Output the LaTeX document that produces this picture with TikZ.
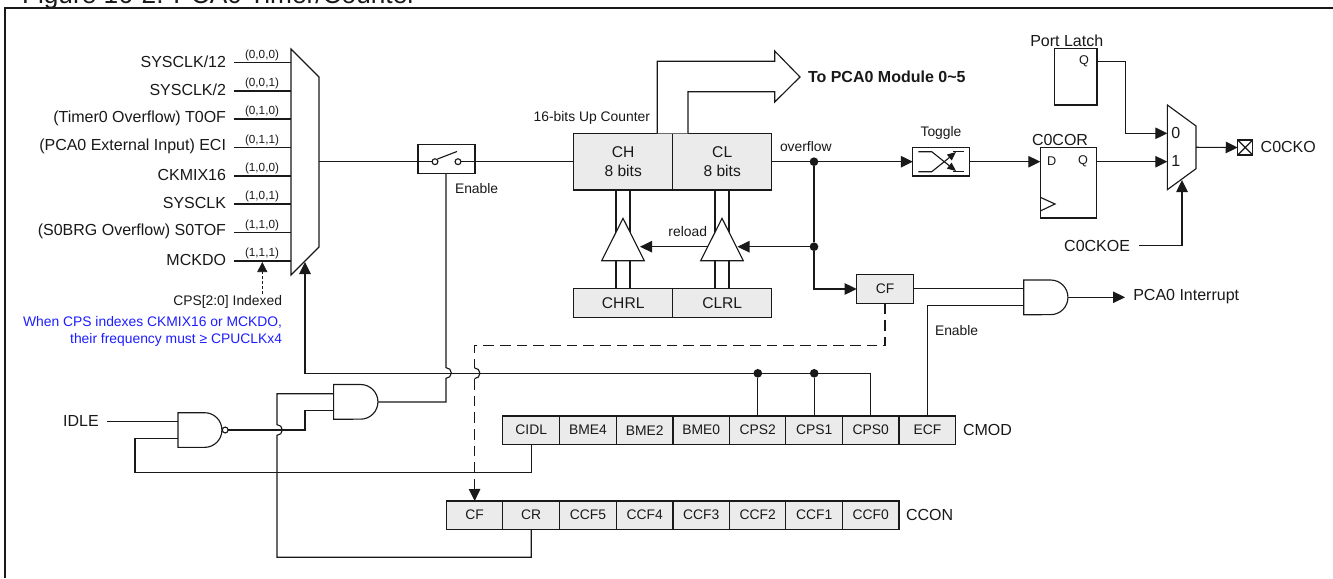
\documentclass[tikz,border=0pt]{standalone}
\usepackage{fontspec}
\setmainfont{Liberation Sans}
\usetikzlibrary{arrows.meta,calc}
\definecolor{ln}{RGB}{25,25,25}
\definecolor{cellfill}{RGB}{235,235,235}
\definecolor{bl}{RGB}{30,30,255}
\tikzset{
  x=0.75pt,y=-0.75pt,
  every node/.style={inner sep=0pt,outer sep=0pt,text=ln},
  wire/.style={draw=ln,line width=0.85pt,line join=miter},
  arr/.style={wire,-{Triangle[length=9pt,width=8.6pt]}},
  dashwire/.style={wire,dash pattern=on 8pt off 4.5pt},
  lab/.style={font=\fontsize{12}{13}\selectfont},
  mid/.style={font=\fontsize{10.4}{12}\selectfont},
  cellt/.style={font=\fontsize{10.4}{12}\selectfont},
  tinyt/.style={font=\fontsize{8.8}{10}\selectfont},
  cell/.style={draw=ln,line width=0.85pt,fill=cellfill,minimum width=42.5pt,minimum height=21.3pt,cellt},
  bigcell/.style={cell,minimum width=74.2pt,font=\fontsize{11.7}{14}\selectfont,align=center},
  plainbox/.style={draw=ln,line width=0.85pt},
  dot/.style={circle,fill=ln,minimum size=6.5pt},
  ring/.style={circle,draw=ln,line width=0.85pt,fill=white,minimum size=4.4pt},
  tri/.style={wire,fill=white},
}
\begin{document}
\begin{tikzpicture}
\useasboundingbox (0,0) rectangle (1333,578);
\fill[white] (0,0) rectangle (1333,578);
% title and frame
\node[anchor=base west,font=\fontsize{19.7}{21}\selectfont] (title) at (22,3) {Figure 16-2. PCA0 Timer/Counter};
\draw[draw=ln,line width=1.6pt] (5,578)--(5,8)--(1333,8);

% clock mux
\draw[wire] (291,49)--(319,77)--(319,247)--(291,275)--cycle;
\coordinate (mOut) at (319,161.7);
\coordinate (mSel) at (305,262);
\coordinate (mIdx) at (262.3,262);
\foreach \n/\t/\b/\y in {
 a/{SYSCLK/12}/{(0,0,0)}/62.5,
 b/{SYSCLK/2}/{(0,0,1)}/91,
 c/{(Timer0 Overflow) T0OF}/{(0,1,0)}/119,
 d/{(PCA0 External Input) ECI}/{(0,1,1)}/147.5,
 e/{CKMIX16}/{(1,0,0)}/176,
 f/{SYSCLK}/{(1,0,1)}/204,
 g/{(S0BRG Overflow) S0TOF}/{(1,1,0)}/232.5,
 h/{MCKDO}/{(1,1,1)}/261}{
  \node[lab,anchor=east] (in\n) at (226,\y-1) {\t};
  \node[tinyt] (code\n) at (262,\y-7.5) {\b};
  \coordinate (pin\n) at (234,\y);
  \coordinate (mi\n) at (291,\y);
  \draw[wire] (pin\n) -- (mi\n);
}
% index note
\node[mid,anchor=east] (idx) at (282,302) {CPS[2:0] Indexed};
\node[mid,anchor=east,text=bl] (bl1) at (282,322) {When CPS indexes CKMIX16 or MCKDO,};
\node[mid,anchor=east,text=bl] (bl2) at (282,339.5) {their frequency must ≥ CPUCLKx4};
\coordinate (idxTop) at (262.3,294);
\draw[draw=ln,line width=0.5pt,dash pattern=on 2.2pt off 1.5pt] (idxTop)--(262.3,271);
\draw[arr,line width=0.5pt,-{Triangle[length=7.5pt,width=7.5pt]}] (262.3,272)--(mIdx);

% switch
\node[plainbox,minimum width=42.7pt,minimum height=21.4pt] (sw) at (446.5,159) {};
\node[ring] (swa) at (435,161.7) {};
\node[ring] (swb) at (458,161.7) {};
\draw[wire] (437.5,159) -- (457,151.5);
\node[mid,anchor=west] (swen) at (455,189) {Enable};

% counter
\node[bigcell,minimum height=42.5pt] (CH) at (623.2,161.7) {CH\\[0.5pt]8 bits};
\node[bigcell,minimum height=42.5pt] (CL) at (722.2,161.7) {CL\\[0.5pt]8 bits};
\node[bigcell] (CHRL) at (623.2,303) {CHRL};
\node[bigcell] (CLRL) at (722.2,303) {CLRL};
\draw[wire] (mOut)--(swa);
\draw[wire] (swb)--(CH.west |- swb);
\node[mid,anchor=east] (cntlab) at (650,118) {16-bits Up Counter};
\foreach \x in {616,630,715,729}{\draw[wire] (\x,190)--(\x,289);}
\draw[tri] (623,218.3)--(644.3,260.7)--(601.7,260.7)--cycle;
\draw[tri] (722,218.3)--(743.3,260.7)--(700.7,260.7)--cycle;
% big arrow
\draw[wire,fill=white] (657.3,133.4)--(657.3,61.3)--(774.7,61.3)--(774.7,51)--(800,77)--(774.7,102)--(774.7,91.7)--(688,91.7)--(688,133.4);
\node[font=\fontsize{12}{12}\selectfont\bfseries,anchor=west] (topca) at (808,77) {To PCA0 Module 0\textasciitilde 5};
% overflow
\node[mid,anchor=west] (ovf) at (780,147) {overflow};
\node[dot] (d1) at (814,161.7) {};
\node[dot] (d2) at (814,246.7) {};
\node[cell] (cfa) at (885,289) {CF};
\draw[wire] (CL.east |- d1)--(d1);
\draw[wire] (d1)--(d2);
\draw[arr] (d2)--(737.5,246.7);
\coordinate (t2l) at (707.7,246.7);
\coordinate (t1r) at (640,246.7);
\draw[arr] (t2l)--(t1r);
\node[mid] (rel) at (687.7,232) {reload};
\draw[arr] (d2) |- (cfa.west);

% toggle
\node[plainbox,minimum width=42.7pt,minimum height=21.4pt] (tog) at (941.3,161.7) {};
\node[mid] (toglab) at (941,133) {Toggle};
\draw[arr] (d1)--(tog.west);
\draw[wire] (918.3,151.7)--(931.7,151.7)--(944,161.5);
\draw[wire,-{Triangle[length=6.5pt,width=5.5pt]}] (944,161.5)--(956,171);
\draw[wire] (918.3,171.7)--(931.7,171.7)--(944,161.9);
\draw[wire,-{Triangle[length=6.5pt,width=5.5pt]}] (944,161.9)--(956,152);
\draw[wire] (953,151.7)--(964.3,151.7);
\draw[wire] (953,171.7)--(964.3,171.7);

% C0COR flip-flop
\node[plainbox,minimum width=42pt,minimum height=53pt] (ff) at (1068.3,182.6) {};
\node[lab] (ffl) at (1060,140) {C0COR};
\node[font=\fontsize{9.5}{12}\selectfont] (ffd) at (1051.7,161.3) {D};
\node[font=\fontsize{9.5}{12}\selectfont] (ffq) at (1083,161.3) {Q};
\draw[wire] (1040.3,197.3)--(1055,204)--(1040.3,211);
\draw[arr] (tog.east)--(ff.west |- tog.east);

% port latch
\node[plainbox,minimum width=32pt,minimum height=42.5pt] (pl) at (1075.7,76.7) {};
\node[lab] (pllab) at (1066.7,40.7) {Port Latch};
\node[font=\fontsize{9.5}{12}\selectfont] (plq) at (1084,61.7) {Q};

% output mux
\draw[wire] (1167.3,105)--(1196,126)--(1196,168.7)--(1167.3,189.7)--cycle;
\node[lab] (m0) at (1175.7,133) {0};
\node[lab] (m1) at (1175.7,161) {1};
\coordinate (oi0) at (1167.3,133.3);
\coordinate (oi1) at (1167.3,161.7);
\coordinate (oo) at (1196,147.3);
\coordinate (ocn) at (1182,180);
\draw[arr] (pl.east |- plq) -| (1125.3,133.3) -- (oi0);
\draw[arr] (ff.east |- oi1)--(oi1);
\node[plainbox,minimum size=11.2pt] (pad) at (1245.2,147.5) {};
\draw[wire] (pad.north west)--(pad.south east) (pad.north east)--(pad.south west);
\draw[arr] (oo)--(pad.west);
\node[lab,anchor=west] (padl) at (1260.7,147) {C0CKO};
\node[lab,anchor=east] (oe) at (1130,245.7) {C0CKOE};
\coordinate (oeS) at (1139,245.7);
\draw[arr] (oeS) -| (ocn);

% registers
\foreach \n/\t/\x in {CIDL/CIDL/531.2,BMEf/BME4/588,BMEt/BME2/644.7,BMEz/BME0/701.3,CPSt/CPS2/757.8,CPSo/CPS1/814.2,CPSz/CPS0/870.7,ECF/ECF/927.5}{
  \node[cell] (\n) at (\x,430.2) {\t};
}
\node[lab,anchor=west] (cmod) at (963,430) {CMOD};
\foreach \n/\t/\x in {rCF/CF/474.7,rCR/CR/531.2,CCFf/CCF5/588,CCFe/CCF4/644.7,CCFd/CCF3/701.3,CCFc/CCF2/757.8,CCFb/CCF1/814.2,CCFa/CCF0/870.7}{
  \node[cell] (\n) at (\x,515.2) {\t};
}
\node[lab,anchor=west] (ccon) at (906,515) {CCON};

% interrupt AND
\draw[wire] (1023.7,280)--(1050.6,280) arc[start angle=90,end angle=-90,radius=13pt]--(1023.7,314.7)--cycle;
\coordinate (a2i1) at (1023.7,288.3);
\coordinate (a2i2) at (1023.7,305.7);
\coordinate (a2o) at (1068,297.3);
\coordinate (intr) at (1125,297.3);
\draw[wire] (cfa.east |- a2i1)--(a2i1);
\draw[wire] (ECF.north) |- (a2i2);
\draw[arr] (a2o)--(intr);
\node[lab,anchor=west] (intl) at (1133.3,297) {PCA0 Interrupt};
\node[mid,anchor=west] (ecfen) at (935,331) {Enable};

% idle gates
\draw[wire] (333.6,384.5)--(360.6,384.5) arc[start angle=90,end angle=-90,radius=13pt]--(333.6,419.2)--cycle;
\draw[wire] (178,412.7)--(204.6,412.7) arc[start angle=90,end angle=-90,radius=13pt]--(178,447.4)--cycle;
\node[ring] (bub) at (225.2,430) {};
\node[lab] (idle) at (81,421) {IDLE};
\coordinate (idleS) at (107,421.7);
\draw[wire] (idleS)--(178,421.7);
\coordinate (a1i1) at (333.6,393.7);
\coordinate (a1i2) at (333.6,410.7);
\coordinate (a1o) at (378,402);
% CIDL feedback
\draw[wire] (CIDL.south) |- (135,472.7) |- (178,438.7);
% NAND output to AND
\draw[wire] (bub)--(305,430)--(305,410.7)--(a1i2);
% CR to AND, with a hop over the NAND output
\draw[wire] (rCR.south) |- (277,557.3) -- (277,435.3) arc[start angle=-90,end angle=90,radius=4pt] -- (277,393.7) -- (a1i1);
% AND output to switch enable, hopping over the select line
\draw[wire] (a1o) -| (446,378.3) arc[start angle=-90,end angle=90,radius=4pt] -- (446,173);
% select line
\draw[wire] (CPSz.north) |- (757.8,373.3);
\draw[arr] (757.8,373.3) -| (mSel);
\node[dot] (d3) at (757.8,373.3) {};
\node[dot] (d4) at (814.2,373.3) {};
\draw[wire] (CPSt.north)--(d3);
\draw[wire] (CPSo.north)--(d4);
% CF dashed
\draw[dashwire] (cfa.south) |- (474.6,345.6)--(474.6,368);
\draw[wire,line width=0.85pt] (474.6,378.6) arc[start angle=-90,end angle=90,radius=4pt];
\draw[dashwire] (474.6,379)--(474.6,492);
\draw[arr] (474.6,490)--(rCF.north);
\end{tikzpicture}
\end{document}
